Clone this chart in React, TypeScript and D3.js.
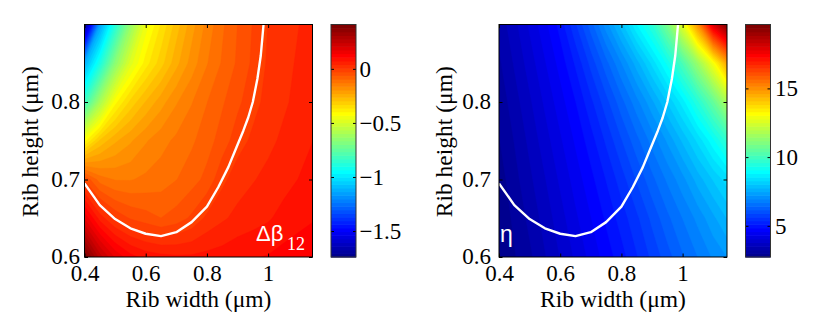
import React, { useEffect, useRef } from 'react';
import * as d3 from 'd3';

// grid of the simulation (rib width along x, rib height along y)
const ribWidths = [0.4, 0.45, 0.5, 0.55, 0.6, 0.65, 0.7, 0.75, 0.8, 0.85, 0.9, 0.95, 1.0, 1.05, 1.1, 1.15];
const ribHeights = [0.6, 0.65, 0.7, 0.75, 0.8, 0.85, 0.9];

// delta beta_12, one row per rib height
const dBeta060 = [0.41, 0.26, 0.17, 0.12, 0.095, 0.085, 0.08, 0.08, 0.085, 0.09, 0.1, 0.105, 0.11, 0.12, 0.13, 0.14];
const dBeta065 = [0.17, 0.06, 0.0, -0.03, -0.045, -0.06, -0.045, -0.02, 0.015, 0.035, 0.05, 0.06, 0.07, 0.085, 0.095, 0.105];
const dBeta070 = [-0.03, -0.11, -0.13, -0.13, -0.12, -0.11, -0.095, -0.075, -0.05, -0.002, 0.025, 0.038, 0.05, 0.062, 0.075, 0.088];
const dBeta075 = [-0.41, -0.29, -0.235, -0.2, -0.165, -0.14, -0.12, -0.1, -0.075, -0.045, -0.008, 0.014, 0.032, 0.047, 0.06, 0.075];
const dBeta080 = [-0.83, -0.6, -0.41, -0.32, -0.26, -0.21, -0.165, -0.13, -0.095, -0.065, -0.035, -0.005, 0.018, 0.035, 0.05, 0.065];
const dBeta085 = [-1.12, -0.9, -0.66, -0.48, -0.38, -0.31, -0.24, -0.18, -0.13, -0.09, -0.055, -0.02, 0.012, 0.03, 0.045, 0.06];
const dBeta090 = [-1.74, -1.15, -0.88, -0.64, -0.45, -0.36, -0.28, -0.21, -0.15, -0.1, -0.06, -0.025, 0.008, 0.025, 0.04, 0.055];

// eta, one row per rib height
const eta060 = [2.73, 2.97, 3.2, 3.5, 3.8, 4.1, 4.4, 4.7, 5.0, 5.35, 5.7, 6.05, 6.4, 6.7, 7.0, 7.25];
const eta065 = [2.8, 3.05, 3.33, 3.63, 3.94, 4.26, 4.57, 4.89, 5.23, 5.58, 5.97, 6.36, 6.7, 7.04, 7.42, 7.8];
const eta070 = [2.86, 3.16, 3.46, 3.77, 4.1, 4.43, 4.76, 5.12, 5.51, 5.93, 6.35, 6.74, 7.13, 7.61, 8.04, 8.45];
const eta075 = [2.98, 3.27, 3.59, 3.93, 4.27, 4.62, 4.99, 5.42, 5.88, 6.34, 6.79, 7.26, 7.8, 8.35, 9.0, 9.8];
const eta080 = [3.08, 3.4, 3.74, 4.1, 4.46, 4.84, 5.3, 5.8, 6.33, 6.86, 7.42, 8.03, 8.67, 9.56, 10.6, 11.9];
const eta085 = [3.21, 3.55, 3.91, 4.29, 4.68, 5.15, 5.72, 6.33, 6.95, 7.62, 8.35, 9.15, 10.16, 11.5, 13.0, 14.8];
const eta090 = [3.35, 3.7, 4.1, 4.5, 4.95, 5.6, 6.3, 7.1, 7.9, 8.8, 9.6, 10.9, 12.7, 15.0, 18.0, 19.65];

// zero contour of delta beta_12 (white line)
const zeroW = [0.4, 0.45, 0.5, 0.55, 0.6, 0.65, 0.7, 0.75, 0.8, 0.837, 0.87, 0.897, 0.919, 0.935, 0.95, 0.965, 0.976, 0.985];
const zeroH = [0.695, 0.667, 0.649, 0.637, 0.63, 0.627, 0.632, 0.645, 0.665, 0.69, 0.716, 0.742, 0.763, 0.78, 0.8, 0.83, 0.86, 0.9];

const xTicks = [0.4, 0.6, 0.8, 1];
const yTicks = [0.6, 0.7, 0.8];
const dBetaBarTicks = [-1.5, -1, -0.5, 0];
const etaBarTicks = [5, 10, 15];

const SERIF = '"Liberation Serif", "Times New Roman", serif';
const SANS = '"Liberation Sans", Arial, sans-serif';

// MATLAB jet(m)
function jet(m) {
  const n = Math.ceil(m / 4);
  const u = [];
  for (let i = 1; i <= n; i++) u.push(i / n);
  for (let i = 1; i < n; i++) u.push(1);
  for (let i = n; i >= 1; i--) u.push(i / n);
  const g0 = Math.ceil(n / 2) - (m % 4 === 1 ? 1 : 0);
  const rgb = d3.range(m).map(() => [0, 0, 0]);
  u.forEach((val, k) => {
    const g = g0 + k + 1;
    const r = g + n;
    const b = g - n;
    if (g >= 1 && g <= m) rgb[g - 1][1] = val;
    if (r >= 1 && r <= m) rgb[r - 1][0] = val;
    if (b >= 1 && b <= m) rgb[b - 1][2] = val;
  });
  return rgb.map(([r, g, b]) => d3.rgb(r * 255, g * 255, b * 255).formatHex());
}

const colors = jet(64);

const panels = [
  {
    id: 'dbeta',
    left: 84.5,
    barLeft: 331,
    tickPad: 4.5,
    barPad: 3.5,
    rows: [dBeta060, dBeta065, dBeta070, dBeta075, dBeta080, dBeta085, dBeta090],
    barTicks: dBetaBarTicks,
  },
  {
    id: 'eta',
    left: 499,
    barLeft: 745.5,
    tickPad: 8,
    barPad: 4.5,
    rows: [eta060, eta065, eta070, eta075, eta080, eta085, eta090],
    barTicks: etaBarTicks,
  },
];

const plotW = 228;
const top = 24.5;
const bottom = 257;
const barW = 25;

function drawPanel(svg, cfg) {
  const x = d3.scaleLinear().domain([0.4, 1.145]).range([cfg.left, cfg.left + plotW]);
  const y = d3.scaleLinear().domain([0.6, 0.9]).range([bottom, top]);

  const values = cfg.rows.flat();
  const [vmin, vmax] = d3.extent(values);
  const nLevels = colors.length;
  const levels = d3.range(nLevels).map(i => vmin + (i * (vmax - vmin)) / nLevels);

  // d3.contours puts sample i at grid coordinate i + 0.5
  const nx = ribWidths.length;
  const ny = ribHeights.length;
  const gx = d3.scaleLinear().domain([0.5, nx - 0.5]).range([x(ribWidths[0]), x(ribWidths[nx - 1])]);
  const gy = d3.scaleLinear().domain([0.5, ny - 0.5]).range([y(ribHeights[0]), y(ribHeights[ny - 1])]);
  const path = d3.geoPath(d3.geoTransform({
    point(px, py) { this.stream.point(gx(px), gy(py)); }
  }));
  const bands = d3.contours().size([nx, ny]).thresholds(levels)(values);

  svg.append('clipPath').attr('id', 'clip-' + cfg.id)
    .append('rect')
    .attr('x', cfg.left).attr('y', top)
    .attr('width', plotW).attr('height', bottom - top);

  const plot = svg.append('g').attr('clip-path', `url(#clip-${cfg.id})`);
  plot.selectAll('path.band')
    .data(bands)
    .enter()
    .append('path')
    .attr('class', 'band')
    .attr('d', path)
    .attr('fill', (d, i) => colors[i])
    .attr('stroke', (d, i) => colors[i])
    .attr('stroke-width', 0.4);

  // zero contour of delta beta
  const line = d3.line().x(d => x(d[0])).y(d => y(d[1]));
  plot.append('path')
    .datum(zeroW.map((w, i) => [w, zeroH[i]]))
    .attr('d', line)
    .attr('fill', 'none')
    .attr('stroke', '#fff')
    .attr('stroke-width', 2.4)
    .attr('stroke-linejoin', 'round');

  // axes, ticks pointing inward
  const styleAxis = g => {
    g.select('.domain').remove();
    g.attr('font-family', SERIF).attr('font-size', 23);
    g.selectAll('line').attr('stroke', '#000');
    g.selectAll('text').attr('fill', '#000');
  };
  svg.append('g')
    .attr('transform', `translate(0,${bottom})`)
    .call(d3.axisBottom(x).tickValues(xTicks).tickSizeInner(-3.5).tickSizeOuter(0).tickPadding(7.8).tickFormat(d3.format('')))
    .call(styleAxis);
  svg.append('g')
    .attr('transform', `translate(0,${top})`)
    .call(d3.axisTop(x).tickValues(xTicks).tickSizeInner(-3.5).tickSizeOuter(0).tickFormat(() => ''))
    .call(styleAxis);
  svg.append('g')
    .attr('transform', `translate(${cfg.left},0)`)
    .call(d3.axisLeft(y).tickValues(yTicks).tickSizeInner(-3.5).tickSizeOuter(0).tickPadding(cfg.tickPad).tickFormat(d3.format('')))
    .call(styleAxis)
    .selectAll('text').attr('dy', '0.3em');
  svg.append('g')
    .attr('transform', `translate(${cfg.left + plotW},0)`)
    .call(d3.axisRight(y).tickValues(yTicks).tickSizeInner(-3.5).tickSizeOuter(0).tickFormat(() => ''))
    .call(styleAxis);

  svg.append('rect')
    .attr('x', cfg.left).attr('y', top)
    .attr('width', plotW).attr('height', bottom - top)
    .attr('fill', 'none').attr('stroke', '#000').attr('stroke-width', 1);

  svg.append('text')
    .attr('x', cfg.left + plotW / 2).attr('y', 306.5)
    .attr('text-anchor', 'middle')
    .attr('font-family', SERIF).attr('font-size', 23.5)
    .text('Rib width (μm)');
  svg.append('text')
    .attr('transform', `translate(${cfg.left - 47},${(top + bottom) / 2 + 1}) rotate(-90)`)
    .attr('text-anchor', 'middle')
    .attr('font-family', SERIF).attr('font-size', 23.5)
    .text('Rib height (μm)');

  // colorbar
  const cb = d3.scaleLinear().domain([vmin, vmax]).range([bottom, top]);
  const step = (vmax - vmin) / nLevels;
  svg.append('g').selectAll('rect')
    .data(colors)
    .enter()
    .append('rect')
    .attr('x', cfg.barLeft)
    .attr('width', barW)
    .attr('y', (c, i) => cb(vmin + (i + 1) * step))
    .attr('height', (c, i) => cb(vmin + i * step) - cb(vmin + (i + 1) * step) + 0.6)
    .attr('fill', c => c);
  svg.append('g')
    .attr('transform', `translate(${cfg.barLeft + barW},0)`)
    .call(d3.axisRight(cb).tickValues(cfg.barTicks).tickSizeInner(-3).tickSizeOuter(0).tickPadding(cfg.barPad).tickFormat(d3.format('')))
    .call(styleAxis);
  svg.append('g')
    .attr('transform', `translate(${cfg.barLeft},0)`)
    .call(d3.axisLeft(cb).tickValues(cfg.barTicks).tickSizeInner(-3).tickSizeOuter(0).tickFormat(() => ''))
    .call(styleAxis);
  svg.append('rect')
    .attr('x', cfg.barLeft).attr('y', top)
    .attr('width', barW).attr('height', bottom - top)
    .attr('fill', 'none').attr('stroke', '#333').attr('stroke-width', 1);
}

export default function App() {
  const ref = useRef(null);

  useEffect(() => {
    const svg = d3.select(ref.current);
    svg.selectAll('*').remove();
    panels.forEach(p => drawPanel(svg, p));

    // in-plot labels
    svg.append('text')
      .attr('x', 256).attr('y', 241)
      .attr('fill', '#fff').attr('font-family', SANS).attr('font-size', 22)
      .text('Δβ');
    svg.append('text')
      .attr('x', 287).attr('y', 250)
      .attr('fill', '#fff').attr('font-family', SERIF).attr('font-size', 18)
      .text('12');
    svg.append('text')
      .attr('x', 500).attr('y', 242)
      .attr('fill', '#fff').attr('font-family', SANS).attr('font-size', 23)
      .text('η');
  }, []);

  return (
    <div style={{ position: 'absolute', left: 0, top: 0, background: '#fff' }}>
      <svg ref={ref} width={830} height={314} style={{ display: 'block' }} />
    </div>
  );
}
